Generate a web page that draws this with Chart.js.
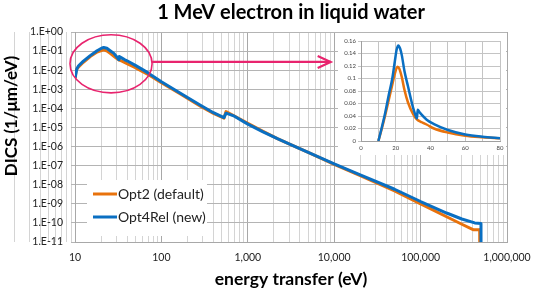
<!DOCTYPE html>
<html>
<head>
<meta charset="utf-8">
<script src="https://cdn.jsdelivr.net/npm/chart.js@4.4.1/dist/chart.umd.min.js"></script>
<style>
  html, body { margin: 0; padding: 0; background: #fff; }
  #wrap { position: relative; width: 533px; height: 290px; }
  #main { position: absolute; left: 0; top: 0; }
  #inset { position: absolute; left: 338px; top: 33px; }
</style>
</head>
<body>
<div id="wrap">
  <canvas id="main" width="533" height="290"></canvas>
  <canvas id="inset" width="168" height="122"></canvas>
</div>
<script>
// main plot (log-log)
const energyOpt2 = [10, 10.3, 11, 12.5, 15, 18, 21.3, 23.5, 26, 28, 30, 32, 35, 40, 50, 60, 70, 80, 100, 166, 283, 400, 530, 560,
  700, 1000, 1500, 2200, 3000, 5000, 10000, 20000, 50000, 100000, 200000, 300000, 405000, 483000, 484000];
const dicsOpt2 = [3.5e-3, 1.0e-2, 1.5e-2, 2.6e-2, 5.2e-2, 9.0e-2, 1.18e-1, 1.0e-1, 7.2e-2, 5.5e-2, 4.3e-2, 3.5e-2, 3.0e-2, 2.2e-2, 1.35e-2, 8.5e-3, 6.0e-3, 4.2e-3, 2.2e-3, 5.6e-4, 1.3e-4, 5.5e-5, 3.1e-5, 6.8e-5,
  4.0e-5, 1.66e-5, 6.3e-6, 2.6e-6, 1.38e-6, 4.9e-7, 1.17e-7, 3.0e-8, 4.7e-9, 1.0e-9, 2.1e-10, 8.5e-11, 4.4e-11, 4.4e-11, 1e-12];

const energyOpt4 = [10.05, 10.5, 11, 12.5, 15, 18, 20.5, 21.5, 23.4, 25.3, 28.2, 31.5, 32.2, 32.6, 35, 37.8, 40, 50, 60, 70, 80, 100, 166, 283, 400, 530, 560,
  700, 1000, 1500, 2200, 3000, 5000, 10000, 20000, 50000, 100000, 200000, 300000, 423000, 500000, 501000];
const dicsOpt4 = [4.0e-3, 1.2e-2, 1.7e-2, 3.0e-2, 5.8e-2, 1.05e-1, 1.46e-1, 1.53e-1, 1.4e-1, 1.08e-1, 7.6e-2, 4.1e-2, 3.5e-2, 5.2e-2, 4.3e-2, 3.5e-2, 3.1e-2, 1.78e-2, 1.1e-2, 7.2e-3, 4.8e-3, 2.5e-3, 6.2e-4, 1.45e-4, 5.9e-5, 3.3e-5, 5.6e-5,
  3.9e-5, 1.5e-5, 5.9e-6, 2.57e-6, 1.38e-6, 5.0e-7, 1.23e-7, 3.3e-8, 5.8e-9, 1.32e-9, 3.3e-10, 1.6e-10, 1.0e-10, 9.3e-11, 1e-12];

// inset (linear, 0-80 eV)
const insetEnergyOpt2 = [10, 12, 14, 16, 18, 19.5, 21, 22, 23.5, 25, 27, 30, 32, 35, 38, 42, 50, 60, 70, 80];
const insetOpt2 = [0, 0.02, 0.042, 0.066, 0.09, 0.108, 0.119, 0.116, 0.102, 0.082, 0.062, 0.043, 0.035, 0.030, 0.026, 0.020, 0.0135, 0.0085, 0.006, 0.0042];
const insetEnergyOpt4 = [10, 12, 14, 16, 18, 19.5, 20.5, 21.5, 22.5, 23.5, 25, 27, 30, 31.8, 32.2, 32.6, 34, 37.8, 42, 50, 60, 70, 80];
const insetOpt4 = [0, 0.022, 0.046, 0.074, 0.10, 0.128, 0.146, 0.153, 0.148, 0.137, 0.112, 0.088, 0.053, 0.038, 0.036, 0.050, 0.045, 0.034, 0.027, 0.0176, 0.0105, 0.0068, 0.0045];

const yDecades = [-11, -10, -9, -8, -7, -6, -5, -4, -3, -2, -1, 0];
const xDecades = [1, 2, 3, 4, 5, 6];

const ORANGE = '#E8720C';
const BLUE = '#0A6FC2';
const PINK = '#E8246E';
const FONT = 'Lato, "Open Sans", sans-serif';

Chart.defaults.font.family = FONT;

function toPoints(xs, ys) {
  return xs.map((x, i) => ({ x: x, y: ys[i] }));
}

function isDecade(v) {
  const l = Math.log10(v);
  return Math.abs(l - Math.round(l)) < 1e-9;
}

// every 1..9 x 10^n between the decades for the x grid
function logGridTicks() {
  const out = [];
  for (let i = 0; i < xDecades.length; i++) {
    const base = Math.pow(10, xDecades[i] - 1);
    for (let m = 1; m <= 9; m++) out.push(Number((m * base).toPrecision(12)));
  }
  out.push(Math.pow(10, xDecades[xDecades.length - 1]));
  return out;
}

const decor = {
  id: 'decor',
  beforeDraw(chart) {
    const ctx = chart.ctx;
    ctx.save();
    ctx.fillStyle = '#fff';
    ctx.fillRect(0, 0, chart.width, chart.height);
    ctx.restore();
  },
  afterDatasetsDraw(chart) {
    const ctx = chart.ctx;
    const xs = chart.scales.x, ys = chart.scales.y;
    const area = chart.chartArea;

    // circle round the peak + arrow to the inset
    const l = xs.getPixelForValue(8.75), r = xs.getPixelForValue(78);
    const t = ys.getPixelForValue(0.72), b = ys.getPixelForValue(6.5e-4);
    ctx.save();
    ctx.strokeStyle = PINK;
    ctx.lineWidth = 1.6;
    ctx.beginPath();
    ctx.ellipse((l + r) / 2, (t + b) / 2, (r - l) / 2, (b - t) / 2, 0, 0, Math.PI * 2);
    ctx.stroke();

    const ay = ys.getPixelForValue(0.027);
    const ax2 = xs.getPixelForValue(9100);
    ctx.lineWidth = 2.2;
    ctx.beginPath();
    ctx.moveTo(r, ay);
    ctx.lineTo(ax2, ay);
    ctx.stroke();
    ctx.beginPath();
    ctx.moveTo(ax2 - 13, ay - 6);
    ctx.lineTo(ax2, ay);
    ctx.lineTo(ax2 - 13, ay + 6);
    ctx.stroke();

    // legend box
    const lx = area.left + 12, ly = 180;
    ctx.fillStyle = '#fff';
    ctx.fillRect(lx, ly, 120, 56);
    ctx.font = '14px ' + FONT;
    ctx.textBaseline = 'middle';
    ctx.textAlign = 'left';
    chart.data.datasets.forEach((ds, i) => {
      const yy = ly + 14 + i * 23;
      ctx.strokeStyle = ds.borderColor;
      ctx.lineWidth = 3;
      ctx.beginPath();
      ctx.moveTo(lx + 6, yy);
      ctx.lineTo(lx + 30, yy);
      ctx.stroke();
      ctx.fillStyle = '#222';
      ctx.fillText(ds.label, lx + 31, yy);
    });
    ctx.restore();
  },
  afterDraw(chart) {
    const ctx = chart.ctx;
    const area = chart.chartArea;
    const cx = (area.left + area.right) / 2;
    ctx.save();
    ctx.fillStyle = '#000';
    ctx.textAlign = 'center';
    ctx.textBaseline = 'middle';
    ctx.font = 'bold 20px ' + FONT;
    ctx.fillText('1 MeV electron in liquid water', cx, 13);
    ctx.font = 'bold 17.5px ' + FONT;
    ctx.fillText('energy transfer (eV)', cx, 279);
    ctx.font = 'bold 17px ' + FONT;
    ctx.translate(12, 116);
    ctx.rotate(-Math.PI / 2);
    ctx.fillText('DICS (1/μm/eV)', 0, 0);
    ctx.restore();
  }
};

new Chart(document.getElementById('main'), {
  type: 'line',
  data: {
    datasets: [
      { label: 'Opt2 (default)', data: toPoints(energyOpt2, dicsOpt2), borderColor: ORANGE, order: 1 },
      { label: 'Opt4Rel (new)', data: toPoints(energyOpt4, dicsOpt4), borderColor: BLUE, order: 0 }
    ]
  },
  options: {
    responsive: false,
    animation: false,
    layout: { padding: { left: 0, right: 26, top: 32, bottom: 0 } },
    elements: {
      point: { radius: 0 },
      line: { borderWidth: 3, tension: 0, borderJoinStyle: 'round' }
    },
    plugins: { legend: { display: false }, tooltip: { enabled: false } },
    scales: {
      x: {
        type: 'logarithmic',
        min: 10,
        max: 1e6,
        afterBuildTicks: (s) => { s.ticks = logGridTicks().map(v => ({ value: v })); },
        afterFit: (s) => { s.height = 48; s.paddingLeft = 0; s.paddingRight = 0; },
        ticks: {
          autoSkip: false,
          maxRotation: 0,
          padding: 9,
          color: '#222',
          font: { size: 10.5 },
          callback: (v) => isDecade(v) ? Number(v).toLocaleString('en-US') : ''
        },
        grid: {
          drawTicks: false,
          color: (c) => (c.tick && isDecade(c.tick.value)) ? '#a8a8a8' : '#d4d4d4'
        },
        border: { color: '#a8a8a8' }
      },
      y: {
        type: 'logarithmic',
        min: 1e-11,
        max: 1,
        afterBuildTicks: (s) => { s.ticks = yDecades.map(e => ({ value: Math.pow(10, e) })); },
        afterFit: (s) => { s.width = 75; s.paddingTop = 0; s.paddingBottom = 0; },
        ticks: {
          autoSkip: false,
          padding: 8,
          color: '#222',
          font: { size: 10.5 },
          callback: (v) => {
            const e = Math.round(Math.log10(v));
            return '1.E' + (e >= 0 ? '+' : '-') + String(Math.abs(e)).padStart(2, '0');
          }
        },
        grid: { color: '#b4b4b4', tickLength: 4 },
        border: { color: '#a8a8a8' }
      }
    }
  },
  plugins: [decor]
});

const insetBg = {
  id: 'insetBg',
  beforeDraw(chart) {
    const ctx = chart.ctx;
    ctx.save();
    ctx.fillStyle = '#fff';
    ctx.fillRect(0, 0, chart.width, chart.height);
    ctx.restore();
  }
};

new Chart(document.getElementById('inset'), {
  type: 'line',
  data: {
    datasets: [
      { label: 'Opt2 (default)', data: toPoints(insetEnergyOpt2, insetOpt2), borderColor: ORANGE, order: 1 },
      { label: 'Opt4Rel (new)', data: toPoints(insetEnergyOpt4, insetOpt4), borderColor: BLUE, order: 0 }
    ]
  },
  options: {
    responsive: false,
    animation: false,
    layout: { padding: { left: 0, right: 6, top: 8, bottom: 0 } },
    elements: {
      point: { radius: 0 },
      line: { borderWidth: 2.5, cubicInterpolationMode: 'monotone' }
    },
    plugins: { legend: { display: false }, tooltip: { enabled: false } },
    scales: {
      x: {
        type: 'linear',
        min: 0,
        max: 80,
        afterFit: (s) => { s.height = 14; s.paddingLeft = 0; s.paddingRight = 0; },
        ticks: {
          stepSize: 10,
          autoSkip: false,
          maxRotation: 0,
          padding: 3,
          color: '#444',
          font: { size: 6 },
          callback: (v) => v % 20 === 0 ? String(v) : ''
        },
        grid: { drawTicks: false, color: '#c4c4c4' },
        border: { color: '#a0a0a0' }
      },
      y: {
        type: 'linear',
        min: 0,
        max: 0.16,
        afterFit: (s) => { s.width = 23; s.paddingTop = 0; s.paddingBottom = 0; },
        ticks: {
          stepSize: 0.02,
          autoSkip: false,
          padding: 2,
          color: '#444',
          font: { size: 6 },
          callback: (v) => v === 0 ? '0' : String(Number(v.toFixed(2)))
        },
        grid: { color: '#c4c4c4', tickLength: 3 },
        border: { color: '#a0a0a0' }
      }
    }
  },
  plugins: [insetBg]
});
</script>
</body>
</html>
